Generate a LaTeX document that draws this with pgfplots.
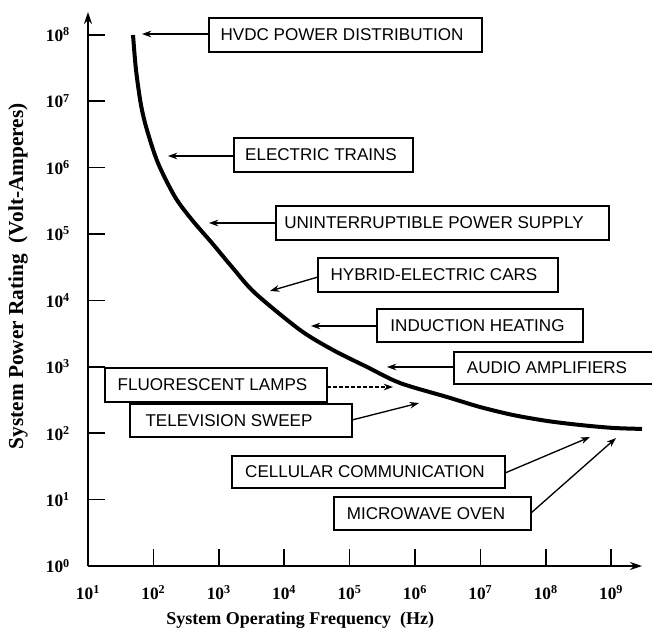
\documentclass[border=0pt]{standalone}
\usepackage{fontspec}
\setmainfont{Liberation Serif}
\newfontfamily\boxfont{Liberation Sans}
\usepackage{pgfplots}
\pgfplotsset{compat=1.18}
\usetikzlibrary{arrows.meta}

\begin{document}
\begin{tikzpicture}
\begin{axis}[
  at={(66pt,-424.5pt)}, anchor=south west,
  scale only axis, width=415.5pt, height=415.5pt,
  xmode=log, ymode=log,
  xmin=10, xmax=2.96e9, ymin=1, ymax=2.2e8,
  axis lines=left,
  axis line style={line width=1.4pt},
  x axis line style={-{Stealth[length=9pt,width=6pt]}},
  y axis line style={-{Stealth[length=9pt,width=6pt]}},
  xminorticks=false, yminorticks=false,
  tick align=inside, major tick length=12.5pt,
  tick style={black, line width=1.3pt},
  xtick={1e1,1e2,1e3,1e4,1e5,1e6,1e7,1e8,1e9},
  xticklabels={10\textsuperscript{1},10\textsuperscript{2},10\textsuperscript{3},10\textsuperscript{4},10\textsuperscript{5},10\textsuperscript{6},10\textsuperscript{7},10\textsuperscript{8},10\textsuperscript{9}},
  ytick={1,1e1,1e2,1e3,1e4,1e5,1e6,1e7,1e8},
  yticklabels={10\textsuperscript{0},10\textsuperscript{1},10\textsuperscript{2},10\textsuperscript{3},10\textsuperscript{4},10\textsuperscript{5},10\textsuperscript{6},10\textsuperscript{7},10\textsuperscript{8}},
  ticklabel style={font=\bfseries\fontsize{13}{13}\selectfont},
  xticklabel style={yshift=-11pt},
  yticklabel style={xshift=-10pt},
  xlabel={System Operating Frequency\ \ (Hz)},
  ylabel={System Power Rating\ \ (Volt-Amperes)},
  xlabel style={font=\bfseries\fontsize{13.5}{14}\selectfont,
    at={(axis description cs:0.383,-0.0975)}, anchor=center},
  ylabel style={font=\bfseries\fontsize{16}{16}\selectfont,
    at={(axis description cs:-0.126,0.523)}, anchor=center, rotate=0},
  clip=false,
]
\addplot[line width=3pt, smooth, black] coordinates {
  (48.8,9.93e7) (54.2,2.95e7) (64.6,8.77e6) (79.8,3.68e6) (117.5,1.17e6)
  (214,3.61e5) (389,1.63e5) (787,7.31e4) (1592,3.18e4) (3581,1.29e4)
  (1.75e4,3.58e3) (5.57e4,1.79e3) (1.85e5,993) (5.9e5,570) (3.08e6,351)
  (9.86e6,248) (3.15e7,188) (1.04e8,153) (3.33e8,133) (1.07e9,120)
  (2.96e9,116)
};
\end{axis}

\begin{scope}[x=0.75pt, y=-0.75pt,
  box/.style={draw, line width=1.3pt, fill=white},
  lbl/.style={font=\boxfont\fontsize{12.8}{14}\selectfont, inner sep=0pt},
  arr/.style={line width=1pt, -{Stealth[length=7pt,width=5pt]}}]
  % application labels and pointers to the curve
  \draw[box] (209,18) rectangle (482,52);
  \node[lbl] at (342,35) {HVDC POWER DISTRIBUTION};
  \draw[arr] (209,34) -- (142,34);

  \draw[box] (234,138) rectangle (413,172);
  \node[lbl] at (321,155) {ELECTRIC TRAINS};
  \draw[arr] (234,156) -- (168,156);

  \draw[box] (276,206) rectangle (609,240);
  \node[lbl] at (434,223) {UNINTERRUPTIBLE POWER SUPPLY};
  \draw[arr] (276,223) -- (209,223);

  \draw[box] (318,258) rectangle (558,292);
  \node[lbl] at (434,275) {HYBRID-ELECTRIC CARS};
  \draw[arr] (318,277) -- (270,291);

  \draw[box] (377,309) rectangle (583,342);
  \node[lbl] at (477.5,325.5) {INDUCTION HEATING};
  \draw[arr] (377,326) -- (311,326);

  \draw[box] (454,352) rectangle (670,384);
  \node[lbl] at (547,368) {AUDIO AMPLIFIERS};
  \draw[arr] (454,367) -- (387,367);

  \draw[box] (105,368) rectangle (327,402);
  \node[lbl] at (212.5,385) {FLUORESCENT LAMPS};
  \draw[arr, dash pattern=on 3pt off 1.5pt] (327,387) -- (393,387);

  \draw[box] (130,404) rectangle (352,437);
  \node[lbl] at (229,420.5) {TELEVISION SWEEP};
  \draw[arr] (352,420) -- (419,403);

  \draw[box] (232,456) rectangle (505,488);
  \node[lbl] at (365,472) {CELLULAR COMMUNICATION};
  \draw[arr] (505,473) -- (590,437);

  \draw[box] (334,497) rectangle (531,530);
  \node[lbl] at (426,513.5) {MICROWAVE OVEN};
  \draw[arr] (531,513) -- (616,438);
\end{scope}
\pgfresetboundingbox
\useasboundingbox (0,0) rectangle (489pt,-476.25pt);
\end{tikzpicture}
\end{document}
